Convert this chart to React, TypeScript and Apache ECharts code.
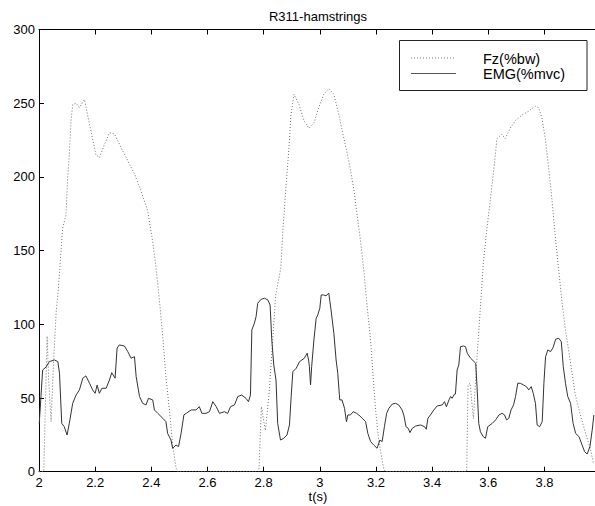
import React, { useEffect, useRef } from "react";
import * as echarts from "echarts";

const titleText = "R311-hamstrings";
const xName = "t(s)";
const legendNames = ["Fz(%bw)", "EMG(%mvc)"];

// Fz (%bw): [time s, value]
const fzTime = [
  2.0, 2.017, 2.022, 2.029, 2.035, 2.043, 2.052, 2.061, 2.069, 2.076, 2.084, 2.096, 2.102, 2.108, 2.114, 2.12,
  2.132, 2.144, 2.162, 2.173, 2.185, 2.203, 2.215, 2.233, 2.251, 2.269, 2.292, 2.316, 2.34, 2.363, 2.387, 2.405,
  2.417, 2.429, 2.441, 2.452, 2.465, 2.476, 2.488, 2.495, 2.783, 2.792, 2.806, 2.819, 2.831, 2.843, 2.861, 2.869,
  2.879, 2.891, 2.897, 2.908, 2.926, 2.944, 2.962, 2.98, 2.996, 3.014, 3.032, 3.05, 3.068, 3.086, 3.103, 3.121,
  3.133, 3.145, 3.157, 3.168, 3.181, 3.19, 3.199, 3.21, 3.228, 3.235, 3.523, 3.528, 3.535, 3.547, 3.559, 3.571,
  3.583, 3.595, 3.607, 3.619, 3.631, 3.648, 3.66, 3.678, 3.696, 3.72, 3.744, 3.767, 3.779, 3.791, 3.803, 3.815,
  3.827, 3.838, 3.85, 3.862, 3.874, 3.892, 3.91, 3.927, 3.945, 3.963, 3.975
];
const fzValue = [
  0, 0, 40, 92, 60, 34, 75, 108, 124, 143, 165, 174, 199, 215, 238, 249,
  250, 247, 252.5, 242, 231, 215, 213, 222, 230, 229, 220, 211, 202, 190.6, 177, 156,
  138, 116, 91, 64, 41, 18, 2.5, 0, 0, 44, 28, 52, 86, 120, 138, 165,
  192, 222, 242, 256, 249, 238, 233, 237, 247, 256, 260, 256, 242, 226, 211, 192,
  174, 156.6, 136, 113, 89, 64, 41, 21, 1.4, 0, 0, 59, 60, 36, 75, 109,
  143, 165, 184, 204, 226, 229, 226, 233, 238, 242, 244.6, 248, 247, 240, 226, 206,
  184, 161, 138, 116, 97.5, 75, 52, 39, 27, 16, 5
];

// EMG (%mvc): [time s, value]
const emgTime = [
  2.001, 2.007, 2.013, 2.025, 2.037, 2.055, 2.067, 2.073, 2.081, 2.09, 2.1, 2.108, 2.12, 2.132, 2.144, 2.156,
  2.167, 2.18, 2.191, 2.2, 2.207, 2.215, 2.224, 2.239, 2.251, 2.259, 2.271, 2.278, 2.286, 2.304, 2.316, 2.328,
  2.34, 2.346, 2.358, 2.369, 2.381, 2.39, 2.405, 2.411, 2.423, 2.441, 2.452, 2.458, 2.47, 2.476, 2.488, 2.497,
  2.506, 2.516, 2.524, 2.542, 2.559, 2.571, 2.58, 2.595, 2.607, 2.619, 2.631, 2.643, 2.66, 2.672, 2.682, 2.696,
  2.708, 2.722, 2.737, 2.746, 2.753, 2.758, 2.767, 2.773, 2.779, 2.791, 2.803, 2.815, 2.823, 2.829, 2.836, 2.844,
  2.85, 2.86, 2.872, 2.883, 2.892, 2.898, 2.904, 2.916, 2.928, 2.945, 2.955, 2.96, 2.963, 2.967, 2.971, 2.979,
  2.987, 2.993, 3.0, 3.005, 3.014, 3.022, 3.032, 3.04, 3.05, 3.058, 3.064, 3.071, 3.079, 3.088, 3.095, 3.1,
  3.109, 3.119, 3.131, 3.139, 3.151, 3.163, 3.171, 3.181, 3.192, 3.204, 3.214, 3.222, 3.23, 3.238, 3.246, 3.258,
  3.27, 3.281, 3.293, 3.299, 3.307, 3.315, 3.321, 3.329, 3.341, 3.359, 3.373, 3.379, 3.385, 3.394, 3.406, 3.418,
  3.436, 3.444, 3.451, 3.46, 3.466, 3.471, 3.48, 3.483, 3.489, 3.495, 3.501, 3.511, 3.519, 3.525, 3.537, 3.555,
  3.56, 3.566, 3.572, 3.582, 3.59, 3.598, 3.614, 3.626, 3.638, 3.649, 3.658, 3.665, 3.673, 3.681, 3.69, 3.697,
  3.705, 3.714, 3.726, 3.736, 3.744, 3.753, 3.76, 3.768, 3.774, 3.783, 3.792, 3.798, 3.804, 3.812, 3.822, 3.831,
  3.84, 3.851, 3.86, 3.867, 3.875, 3.883, 3.893, 3.902, 3.911, 3.923, 3.934, 3.943, 3.952, 3.962, 3.97, 3.976
];
const emgValue = [
  32.8, 51, 69, 71, 74.7, 75.8, 74.7, 66.8, 32.8, 30.5, 24.9, 32.8, 46.4, 52, 55.5, 63.4,
  65, 60, 55.5, 53.2, 58.8, 53.2, 56.6, 56.6, 62.2, 67.2, 63.4, 83.8, 86, 85.3, 81.5, 77,
  78, 64.5, 51, 46.4, 45.3, 49.8, 48.7, 41.9, 39.6, 36.2, 34, 26, 21.5, 15.9, 18.1, 17,
  26, 38.5, 39.6, 41.9, 41.9, 44.1, 39.6, 39.6, 40.7, 47.5, 44.1, 39.6, 40.7, 39.6, 44.1, 45.3,
  51, 52, 49.8, 47.5, 52, 96.2, 100.7, 105.2, 114.3, 117, 117.7, 116.5, 113.1, 89.4, 72.4, 62.2,
  32.8, 21.5, 22.7, 24.9, 31.7, 51, 67.9, 70.2, 74.7, 77, 80.4, 75.8, 71.3, 58.8, 71.3, 89.4,
  104.1, 106.4, 110.9, 119.9, 119.9, 119.3, 121.1, 109.8, 93.9, 75.8, 66.8, 48.7, 48.7, 43, 33.9, 38.5,
  38.5, 40.7, 39.6, 38.5, 36.2, 34, 26, 20.4, 18.1, 15.9, 21.5, 20.4, 30.5, 39.6, 43, 45.9,
  46.4, 45.3, 41.9, 38.5, 30.5, 29.4, 26.5, 29.4, 31, 31.7, 30.5, 28.8, 36.2, 38.5, 41.9, 44.6,
  45.3, 47.5, 44.1, 48.7, 51, 49.8, 52.7, 52.7, 69, 72.4, 84.8, 85.3, 84.8, 80.4, 77, 73.6,
  57.7, 32.8, 27.1, 23.8, 22.7, 30.5, 32.8, 35.1, 38.5, 39.6, 38.5, 35.1, 36.2, 41.9, 45.3, 51,
  60, 60, 58.8, 57.7, 55.5, 57.7, 53.2, 46.4, 31.7, 30.5, 34, 60, 78, 82.6, 81.5, 84.4,
  89.9, 90.5, 88.2, 71.3, 60, 51, 46.4, 32.8, 26, 23.8, 18.1, 13.6, 12, 17, 28.3, 38.5
];

const xMin = 2;
const xMax = 3.98;
const xStep = 0.2;
const yMin = 0;
const yMax = 300;
const yStep = 50;

const FONT = "'Liberation Sans', Arial, sans-serif";

export default function App() {
  const ref = useRef<HTMLDivElement>(null);
  useEffect(() => {
    if (!ref.current) return;
    const chart = echarts.init(ref.current, undefined, { renderer: "svg" });
    const fz = fzTime.map((t, i) => [t, fzValue[i]]);
    const emg = emgTime.map((t, i) => [t, emgValue[i]]);
    const xLabel = (v: number) => {
      const k = Math.round((v - xMin) / xStep);
      if (Math.abs(v - (xMin + k * xStep)) > 1e-6) return "";
      return String(parseFloat(v.toFixed(1)));
    };
    chart.setOption({
      animation: false,
      backgroundColor: "#ffffff",
      grid: { left: 39, right: 0, top: 29.5, bottom: 34.3, outerBoundsMode: "none", containLabel: false },
      xAxis: [
        {
          type: "value",
          min: xMin,
          max: xMax,
          interval: xStep,
          position: "bottom",
          axisLine: { show: true, onZero: false, lineStyle: { color: "#000", width: 1 } },
          axisTick: { show: true, inside: true, length: 5, lineStyle: { color: "#000" } },
          axisLabel: { show: true, margin: 4, fontFamily: FONT, fontSize: 13, color: "#000", formatter: xLabel, showMaxLabel: false },
          splitLine: { show: false },
        },
        {
          type: "value",
          min: xMin,
          max: xMax,
          interval: xStep,
          position: "top",
          axisLine: { show: true, onZero: false, lineStyle: { color: "#000", width: 1 } },
          axisTick: { show: true, inside: true, length: 5, lineStyle: { color: "#000" } },
          axisLabel: { show: false },
          splitLine: { show: false },
        },
      ],
      yAxis: {
        type: "value",
        min: yMin,
        max: yMax,
        interval: yStep,
        axisLine: { show: true, onZero: false, lineStyle: { color: "#000", width: 1 } },
        axisTick: { show: true, inside: true, length: 5, lineStyle: { color: "#000" } },
        axisLabel: { margin: 4, fontFamily: FONT, fontSize: 13, color: "#000" },
        splitLine: { show: false },
      },
      graphic: [
        {
          type: "text",
          x: 318,
          y: 16,
          style: { text: titleText, font: `13px ${FONT}`, fill: "#000", textAlign: "center", textVerticalAlign: "middle" },
        },
        {
          type: "text",
          x: 318,
          y: 496,
          style: { text: xName, font: `13px ${FONT}`, fill: "#000", textAlign: "center", textVerticalAlign: "middle" },
        },
        {
          type: "rect",
          shape: { x: 399.5, y: 40.5, width: 187.5, height: 50 },
          style: { fill: "#fff", stroke: "#222", lineWidth: 1 },
          z: 10,
        },
        {
          type: "line",
          shape: { x1: 411, y1: 58, x2: 455, y2: 58 },
          style: { stroke: "#777", lineWidth: 1, lineDash: [1, 2] },
          z: 11,
        },
        {
          type: "line",
          shape: { x1: 411, y1: 73.5, x2: 456, y2: 73.5 },
          style: { stroke: "#555", lineWidth: 1 },
          z: 11,
        },
        {
          type: "text",
          x: 483,
          y: 59,
          style: { text: legendNames[0], font: `14.5px ${FONT}`, fill: "#000", textAlign: "left", textVerticalAlign: "middle" },
          z: 11,
        },
        {
          type: "text",
          x: 483,
          y: 74,
          style: { text: legendNames[1], font: `14.5px ${FONT}`, fill: "#000", textAlign: "left", textVerticalAlign: "middle" },
          z: 11,
        },
      ],
      series: [
        {
          name: legendNames[0],
          type: "line",
          xAxisIndex: 0,
          data: fz,
          showSymbol: false,
          symbol: "none",
          lineStyle: { color: "#6e6e6e", width: 1, type: [1, 2] },
          z: 2,
        },
        {
          name: legendNames[1],
          type: "line",
          xAxisIndex: 0,
          data: emg,
          showSymbol: false,
          symbol: "none",
          lineStyle: { color: "#333", width: 1 },
          z: 3,
        },
      ],
    });
    return () => chart.dispose();
  }, []);
  return (
    <div
      ref={ref}
      style={{ position: "fixed", left: 0, top: 0, width: 595, height: 506, background: "#fff" }}
    />
  );
}
